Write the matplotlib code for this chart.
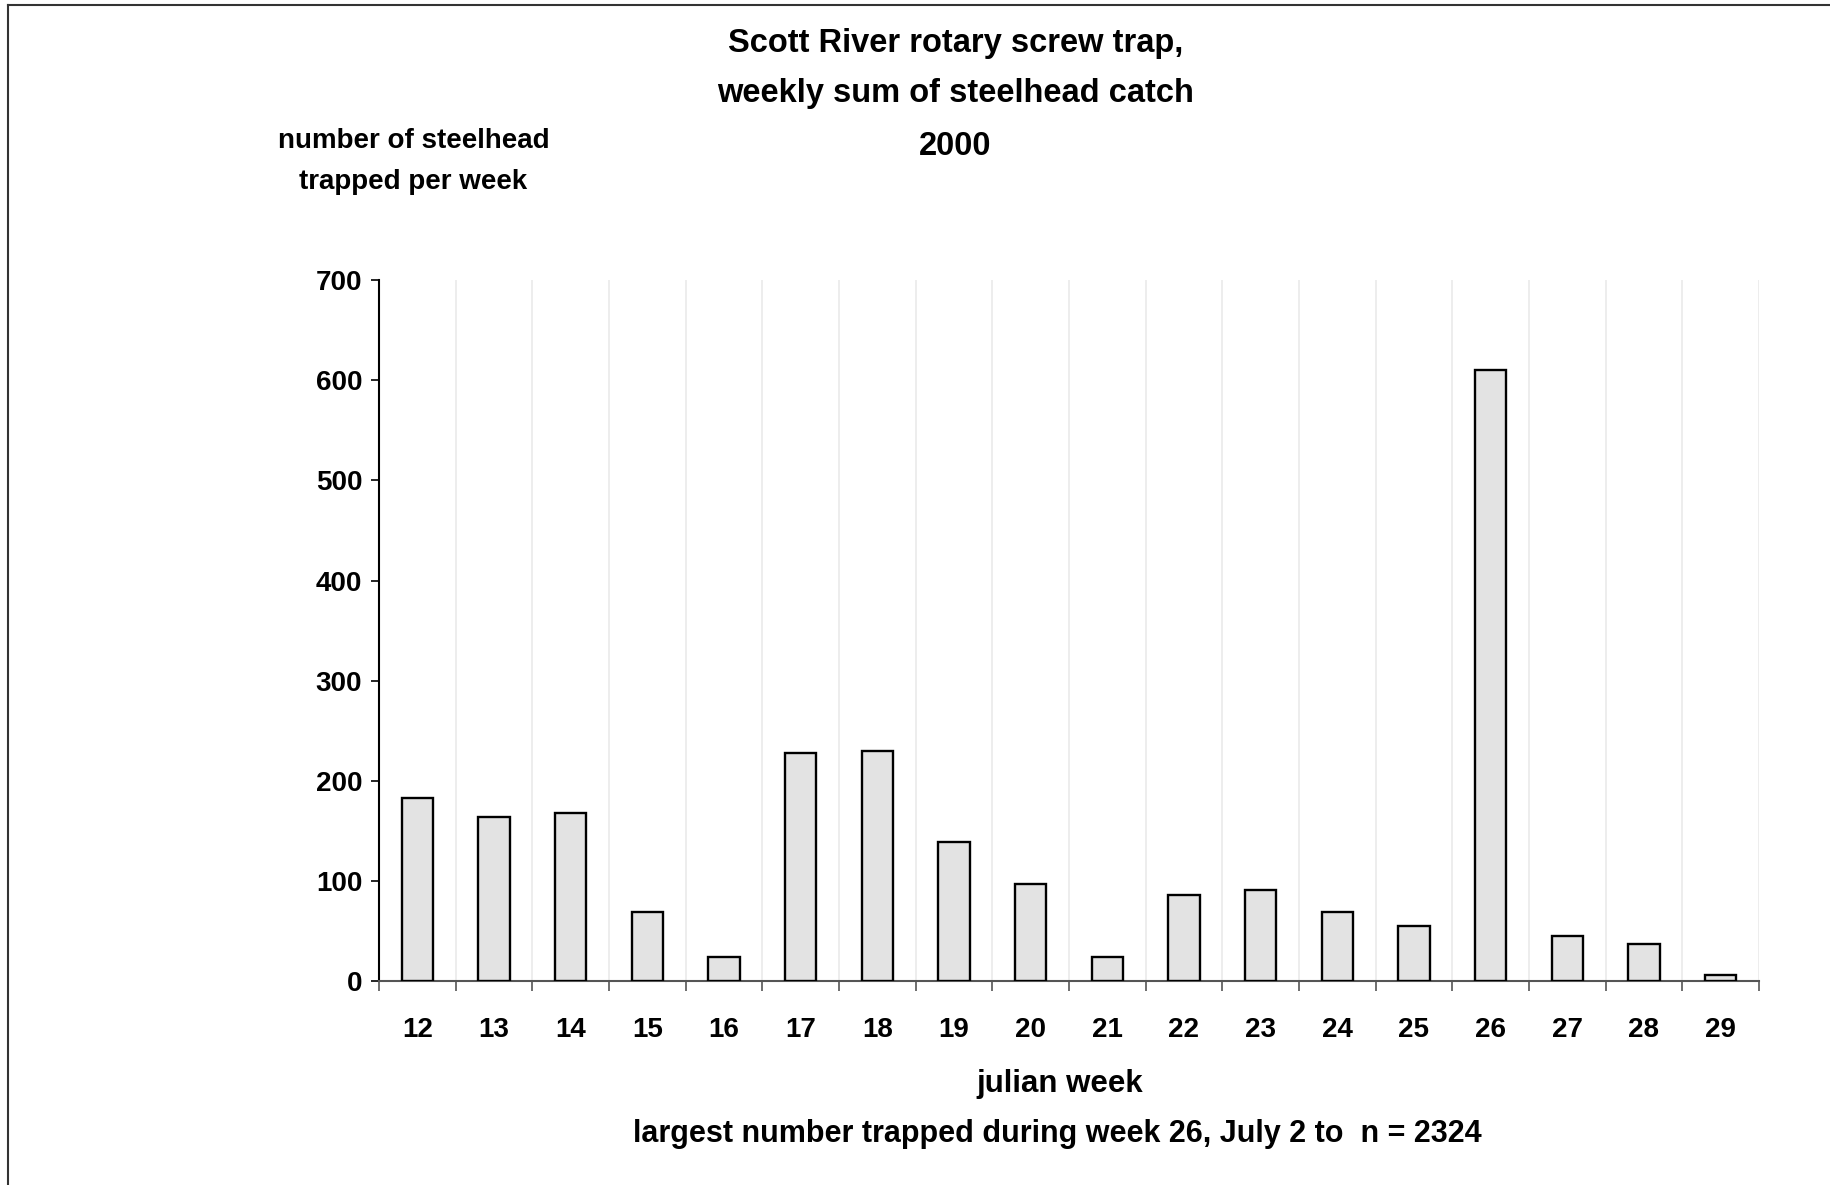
import numpy as np
import matplotlib
matplotlib.use("Agg")
import matplotlib.pyplot as plt
from matplotlib.lines import Line2D

plt.rcParams['font.family'] = ['Liberation Sans', 'DejaVu Sans']
plt.rcParams['font.weight'] = 'bold'

# weekly steelhead catch
weeks = ["12", "13", "14", "15", "16", "17", "18", "19", "20",
         "21", "22", "23", "24", "25", "26", "27", "28", "29"]
catch = [183, 164, 168, 69, 24, 228, 230, 139, 97,
         24, 86, 91, 69, 55, 610, 45, 37, 6]
yticks = [0, 100, 200, 300, 400, 500, 600, 700]

fig = plt.figure(figsize=(18.3, 11.85), dpi=100)
ax = fig.add_axes([0.2071, 0.172, 0.7541, 0.5916])

x = np.arange(len(weeks))
ax.bar(x, catch, width=0.41, color="#e3e3e3", edgecolor="black", linewidth=1.7, zorder=3)

ax.set_xlim(-0.5, len(weeks) - 0.5)
ax.set_ylim(0, 700)
ax.set_yticks(yticks)
ax.set_yticklabels([str(v) for v in yticks], fontsize=20, fontweight="bold")

# boundaries between weeks carry the tick marks and the light grid
ax.set_xticks(np.arange(len(weeks) + 1) - 0.5)
ax.set_xticklabels([])
ax.set_xticks(x, minor=True)
ax.set_xticklabels(weeks, minor=True, fontsize=20, fontweight="bold")
ax.tick_params(axis="x", which="minor", length=0, pad=26)
ax.tick_params(axis="x", which="major", length=7, width=1.2, color="#555555", direction="out")
ax.tick_params(axis="y", length=6, width=1.2, direction="out", pad=6)
ax.xaxis.grid(True, which="major", color="#e8e8e8", linewidth=1.1, zorder=0)

for s in ["top", "right"]:
    ax.spines[s].set_visible(False)
ax.spines["left"].set_linewidth(1.5)
ax.spines["bottom"].set_color("#555555")
ax.spines["bottom"].set_linewidth(1.5)

fig.text(0.522, 0.963, "Scott River rotary screw trap,", ha="center", va="center", fontsize=23.5, fontweight="bold")
fig.text(0.522, 0.921, "weekly sum of steelhead catch", ha="center", va="center", fontsize=23.5, fontweight="bold")
fig.text(0.522, 0.876, "2000", ha="center", va="center", fontsize=23.5, fontweight="bold")

fig.text(0.226, 0.881, "number of steelhead", ha="center", va="center", fontsize=20, fontweight="bold")
fig.text(0.226, 0.846, "trapped per week", ha="center", va="center", fontsize=20, fontweight="bold")

fig.text(0.579, 0.085, "julian week", ha="center", va="center", fontsize=22.5, fontweight="bold")
fig.text(0.578, 0.043, "largest number trapped during week 26, July 2 to  n = 2324",
         ha="center", va="center", fontsize=22, fontweight="bold")

# frame edges visible at left and top of the original
fig.add_artist(Line2D([8 / 1830, 8 / 1830], [0, 1 - 5 / 1185], color="#333333", linewidth=1.5))
fig.add_artist(Line2D([8 / 1830, 1], [1 - 5 / 1185, 1 - 5 / 1185], color="#333333", linewidth=1.5))

fig.savefig("out.png", dpi=100, facecolor="white")
